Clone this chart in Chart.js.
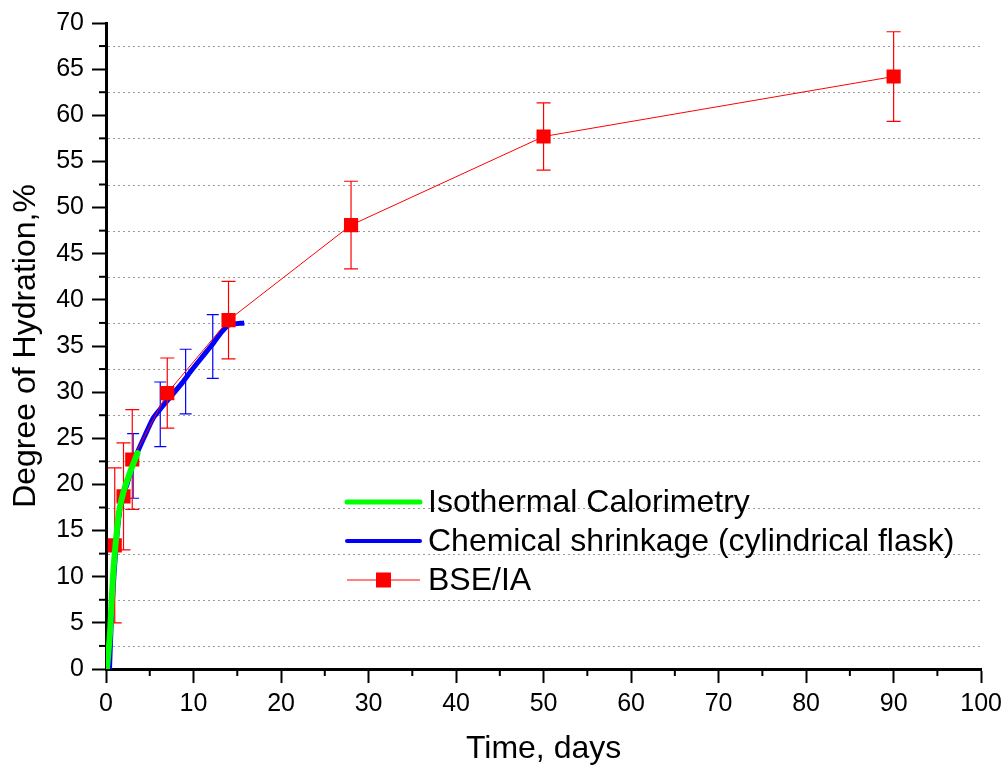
<!DOCTYPE html>
<html>
<head>
<meta charset="utf-8">
<script src="https://cdn.jsdelivr.net/npm/chart.js@4.4.1/dist/chart.umd.min.js"></script>
<style>
  html, body { margin: 0; padding: 0; background: #fff; }
  #wrap { width: 1008px; height: 769px; }
</style>
</head>
<body>
<div id="wrap"><canvas id="hydChart" width="1008" height="769"></canvas></div>
<script>
/* Degree of hydration vs time */

// Isothermal calorimetry (green)
var caloDays = [0.1, 0.25, 0.46, 0.65, 0.88, 1.22, 1.48, 1.97, 2.74, 3.6];
var caloVals = [0, 1.5, 4, 7.6, 11.1, 14.8, 17, 19.1, 21.3, 23.4];

// Chemical shrinkage (blue)
var shrinkDays = [0.4, 0.6, 0.9, 1.3, 1.8, 2.4, 3.0, 3.6, 4.4, 5.4, 6.4, 7.3, 8.7, 9.8, 10.9, 12.1, 13.2, 14.1, 15.8];
var shrinkVals = [0, 5, 10, 15, 18.5, 20, 22, 23.5, 25.2, 27.2, 28.4, 29.4, 31, 32.4, 33.7, 35.1, 36.5, 37.3, 37.5];
var shrinkErrDays = [3.1, 6.2, 9.1, 12.2];
var shrinkErrVals = [22, 27.6, 31.15, 34.95];
var shrinkErr = [3.5, 3.5, 3.5, 3.45];

// BSE/IA (red)
var bseDays = [1, 2, 3, 7, 14, 28, 50, 90];
var bseVals = [13.4, 18.7, 22.7, 29.9, 37.8, 48.1, 57.7, 64.2];
var bseErr = [8.4, 5.8, 5.4, 3.8, 4.2, 4.75, 3.65, 4.85];

var legendLabels = ['Isothermal Calorimetry', 'Chemical shrinkage (cylindrical flask)', 'BSE/IA'];

var FONT = "Arial, 'Liberation Sans', sans-serif";

function pts(xs, ys) {
  return xs.map(function (x, i) { return { x: x, y: ys[i] }; });
}

// error bars, minor ticks, dotted grid and legend
var extras = {
  id: 'extras',
  beforeDatasetsDraw: function (chart) {
    var ctx = chart.ctx, a = chart.chartArea;
    var xs = chart.scales.x, ys = chart.scales.y;
    ctx.save();
    // dotted grid on the half steps
    ctx.strokeStyle = '#9a9a9a';
    ctx.lineWidth = 1;
    ctx.setLineDash([2, 3]);
    for (var v = 2.5; v < 70; v += 5) {
      var py = Math.round(ys.getPixelForValue(v)) + 0.5;
      ctx.beginPath();
      ctx.moveTo(a.left + 2, py);
      ctx.lineTo(a.right, py);
      ctx.stroke();
    }
    ctx.setLineDash([]);
    // minor ticks
    ctx.strokeStyle = '#000';
    ctx.lineWidth = 2;
    for (var v2 = 2.5; v2 < 70; v2 += 5) {
      var p = ys.getPixelForValue(v2);
      ctx.beginPath();
      ctx.moveTo(a.left, p);
      ctx.lineTo(a.left - 7, p);
      ctx.stroke();
    }
    for (var v3 = 5; v3 < 100; v3 += 10) {
      var q = xs.getPixelForValue(v3);
      ctx.beginPath();
      ctx.moveTo(q, a.bottom);
      ctx.lineTo(q, a.bottom + 7);
      ctx.stroke();
    }
    ctx.restore();
  },
  afterDatasetDraw: function (chart, args) {
    var ctx = chart.ctx;
    var xs = chart.scales.x, ys = chart.scales.y;
    var set = null;
    if (args.index === 1) set = { d: bseDays, v: bseVals, e: bseErr, c: '#ff0000', w: 7 };
    if (args.index === 2) set = { d: shrinkErrDays, v: shrinkErrVals, e: shrinkErr, c: '#0000ff', w: 6 };
    if (!set) return;
    ctx.save();
    ctx.strokeStyle = set.c;
    ctx.lineWidth = 1.2;
    for (var i = 0; i < set.d.length; i++) {
      var px = xs.getPixelForValue(set.d[i]);
      var top = ys.getPixelForValue(set.v[i] + set.e[i]);
      var bot = ys.getPixelForValue(set.v[i] - set.e[i]);
      ctx.beginPath();
      ctx.moveTo(px, top); ctx.lineTo(px, bot);
      ctx.moveTo(px - set.w, top); ctx.lineTo(px + set.w, top);
      ctx.moveTo(px - set.w, bot); ctx.lineTo(px + set.w, bot);
      ctx.stroke();
    }
    ctx.restore();
  },
  afterDraw: function (chart) {
    var ctx = chart.ctx;
    var x0 = 347, x1 = 420, tx = 428;
    var rows = [502, 541, 580];
    ctx.save();
    ctx.font = '32px ' + FONT;
    ctx.textBaseline = 'middle';
    ctx.fillStyle = '#000';
    // green
    ctx.strokeStyle = '#00ff00'; ctx.lineWidth = 5; ctx.lineCap = 'round';
    ctx.beginPath(); ctx.moveTo(x0, rows[0]); ctx.lineTo(x1, rows[0]); ctx.stroke();
    // blue
    ctx.strokeStyle = '#0000ff'; ctx.lineWidth = 4;
    ctx.beginPath(); ctx.moveTo(x0, rows[1]); ctx.lineTo(x1, rows[1]); ctx.stroke();
    // red with square
    ctx.strokeStyle = '#ff0000'; ctx.lineWidth = 1; ctx.lineCap = 'butt';
    ctx.beginPath(); ctx.moveTo(x0, rows[2]); ctx.lineTo(x1, rows[2]); ctx.stroke();
    ctx.fillStyle = '#ff0000';
    ctx.fillRect(376, rows[2] - 7.5, 15, 15);
    ctx.fillStyle = '#000';
    for (var i = 0; i < legendLabels.length; i++) {
      ctx.fillText(legendLabels[i], tx, rows[i] + 1);
    }
    ctx.restore();
  }
};

var ctxHyd = document.getElementById('hydChart').getContext('2d');

var dataHyd = {
  datasets: [{
    label: legendLabels[0],
    data: pts(caloDays, caloVals),
    showLine: true,
    borderColor: '#00ff00',
    borderWidth: 6,
    pointRadius: 0,
    tension: 0.3,
    borderCapStyle: 'round'
  }, {
    label: legendLabels[2],
    data: pts(bseDays, bseVals),
    showLine: true,
    borderColor: '#ff0000',
    borderWidth: 1,
    pointStyle: 'rect',
    pointRadius: 10,
    pointBackgroundColor: '#ff0000',
    pointBorderWidth: 0
  }, {
    label: legendLabels[1],
    data: pts(shrinkDays, shrinkVals),
    showLine: true,
    borderColor: '#0000ff',
    borderWidth: 5,
    pointRadius: 0,
    tension: 0.2
  }]
};

var optionsHyd = {
  responsive: false,
  animation: false,
  events: [],
  layout: { padding: { left: 0, top: 22, right: 23, bottom: 0 } },
  plugins: { legend: { display: false }, tooltip: { enabled: false } },
  scales: {
    x: {
      type: 'linear',
      min: 0, max: 100,
      afterFit: function (s) { s.height = 100; },
      ticks: { stepSize: 10, color: '#000', font: { family: FONT, size: 25 }, padding: 6, maxRotation: 0 },
      grid: { drawOnChartArea: false, tickLength: 14, tickWidth: 2, tickColor: '#000' },
      border: { color: '#000', width: 3 },
      title: { display: true, text: 'Time, days', color: '#000', font: { family: FONT, size: 32 }, padding: { top: 0, bottom: 1 } }
    },
    y: {
      min: 0, max: 70,
      afterFit: function (s) { s.width = 106; },
      ticks: { stepSize: 5, color: '#000', font: { family: FONT, size: 25 }, padding: 8 },
      grid: { drawOnChartArea: false, tickLength: 14, tickWidth: 2, tickColor: '#000' },
      border: { color: '#000', width: 3 },
      title: { display: true, text: 'Degree of Hydration,%', color: '#000', font: { family: FONT, size: 32 }, padding: { top: 7, bottom: 0 } }
    }
  }
};

var hydChart = new Chart(ctxHyd, {
  type: 'scatter',
  data: dataHyd,
  options: optionsHyd,
  plugins: [extras]
});
</script>
</body>
</html>
